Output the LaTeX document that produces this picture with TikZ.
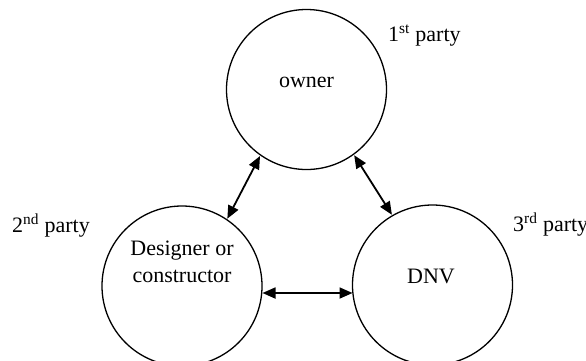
\documentclass[tikz,border=0pt]{standalone}
\usepackage{fontspec}
\setmainfont{Liberation Serif}
\usetikzlibrary{arrows.meta}
\tikzset{
  party/.style={draw=black, line width=1.3pt, circle, minimum size=160pt, inner sep=0pt},
  ptext/.style={font=\fontsize{22}{27}\selectfont, inner sep=0pt, align=center},
  link/.style={line width=1.8pt, {Triangle[length=13pt,width=11pt]}-{Triangle[length=13pt,width=11pt]}, shorten <=0.5pt, shorten >=0.5pt}
}
\begin{document}
\begin{tikzpicture}[x=1pt,y=-1pt]
\useasboundingbox (0,0) rectangle (586,360);
\node[party] (own) at (306.5,89.5) {};
\node[party] (des) at (182,286) {};
\node[party] (dnv) at (432.5,285) {};
\node[ptext, anchor=base] (townr) at (306.5,87) {owner};
\node[ptext, anchor=base] (tdnv) at (431,283) {DNV};
\node[ptext, anchor=center] (tdes) at (182,262) {Designer or\\constructor};
\node[ptext, anchor=base west] (p1) at (388,41) {1\textsuperscript{st} party};
\node[ptext, anchor=base west] (p2) at (12,232) {2\textsuperscript{nd} party};
\node[ptext, anchor=base west] (p3) at (513,231) {3\textsuperscript{rd} party};
\draw[link] (own.235) -- (des.56);
\draw[link] (own.306) -- (dnv.120);
\coordinate (hl) at (262,293);
\coordinate (hr) at (353,293);
\draw[link] (hl) -- (hr);
\end{tikzpicture}
\end{document}
